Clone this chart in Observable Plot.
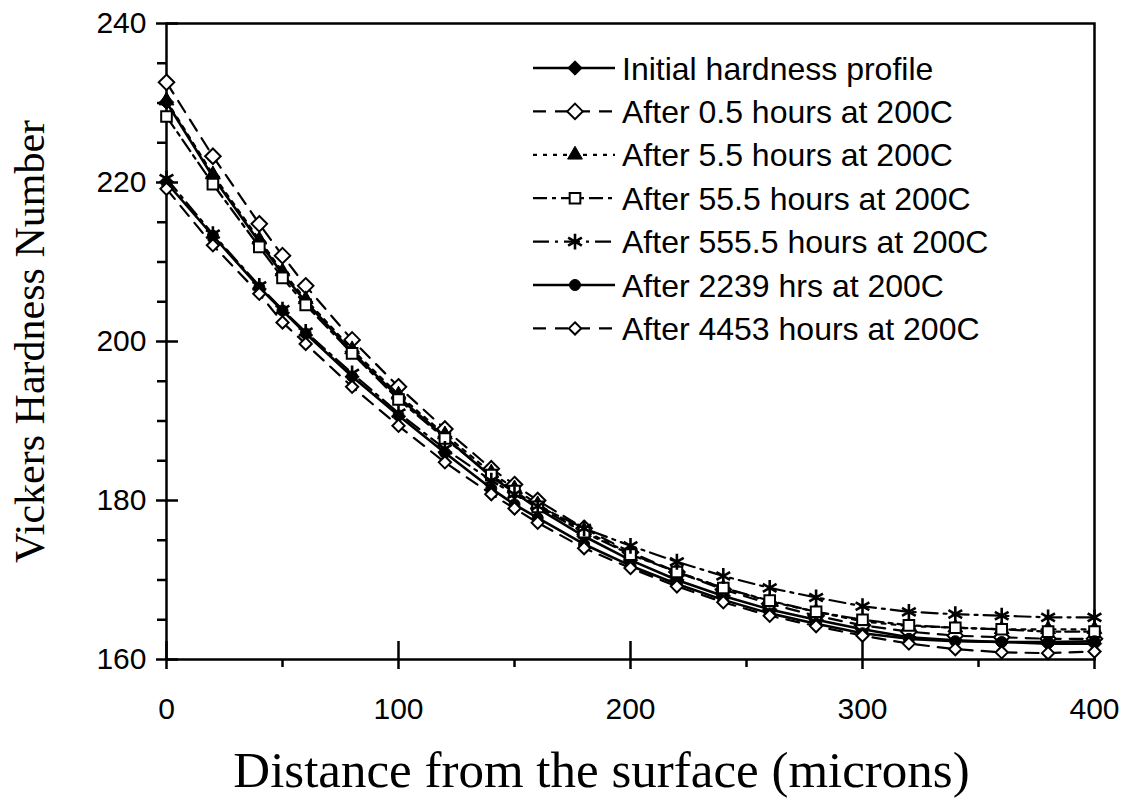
<!DOCTYPE html>
<html>
<head>
<meta charset="utf-8">
<script src="https://cdn.jsdelivr.net/npm/d3@7"></script>
<script src="https://cdn.jsdelivr.net/npm/@observablehq/plot@0.6"></script>
<style>
  html, body { margin: 0; padding: 0; background: #fff; }
  #chart { width: 1131px; height: 806px; }
</style>
</head>
<body>
<div id="chart"></div>
<script>
// Distances from the surface (microns)
const distances = [0, 20, 40, 50, 60, 80, 100, 120, 140, 150, 160, 180, 200, 220, 240, 260, 280, 300, 320, 340, 360, 380, 400];

const seriesNames = [
  "Initial hardness profile",
  "After 0.5 hours at 200C",
  "After 5.5 hours at 200C",
  "After 55.5 hours at 200C",
  "After 555.5 hours at 200C",
  "After 2239 hrs at 200C",
  "After 4453 hours at 200C"
];

const initialProfile = [230.1, 220.7, 212.5, 208.5, 205.0, 198.7, 193.0, 188.0, 183.0, 181.0, 179.0, 175.5, 172.5, 170.0, 168.0, 166.3, 165.0, 163.8, 162.8, 162.4, 162.2, 162.0, 162.0];
const after0_5h    = [232.6, 223.3, 214.8, 210.8, 207.0, 200.2, 194.3, 189.0, 184.0, 182.0, 180.0, 176.5, 173.5, 171.0, 168.8, 167.0, 165.5, 164.3, 163.5, 163.0, 162.8, 162.6, 162.6];
const after5_5h    = [230.3, 221.0, 212.8, 208.8, 205.3, 199.0, 193.3, 188.3, 183.5, 181.5, 179.5, 176.2, 173.3, 171.0, 169.0, 167.3, 166.0, 164.8, 164.2, 164.0, 163.8, 163.8, 163.8];
const after55_5h   = [228.3, 219.8, 211.9, 208.0, 204.6, 198.5, 192.7, 187.8, 183.2, 181.2, 179.2, 176.0, 173.2, 171.0, 169.0, 167.4, 166.0, 165.0, 164.3, 164.0, 163.8, 163.5, 163.5];
const after555_5h  = [220.5, 213.5, 207.0, 204.0, 201.2, 196.0, 191.0, 186.5, 182.5, 180.8, 179.3, 176.5, 174.3, 172.3, 170.5, 169.0, 167.8, 166.7, 166.0, 165.7, 165.5, 165.3, 165.3];
const after2239h   = [220.0, 213.3, 206.8, 203.9, 201.0, 195.6, 190.7, 186.0, 181.5, 179.5, 177.8, 174.5, 171.8, 169.5, 167.5, 165.8, 164.5, 163.3, 162.6, 162.3, 162.2, 162.2, 162.3];
const after4453h   = [219.2, 212.1, 206.0, 202.4, 199.7, 194.3, 189.4, 184.8, 180.8, 179.0, 177.2, 174.0, 171.5, 169.2, 167.2, 165.5, 164.2, 163.0, 162.0, 161.3, 160.9, 160.8, 161.0];

const seriesValues = [initialProfile, after0_5h, after5_5h, after55_5h, after555_5h, after2239h, after4453h];

const xTicksMajor = [0, 100, 200, 300, 400];
const xTicksMinor = [50, 150, 250, 350];
const yTicksMajor = [160, 180, 200, 220, 240];
const yTicksMinor = [165, 170, 175, 185, 190, 195, 205, 210, 215, 225, 230, 235];

const xLabel = "Distance from the surface (microns)";
const yLabel = "Vickers Hardness Number";

// Styles per series
const styles = [
  {symbol: "diamond2", r: 6.5, fill: "black", stroke: "black", sw: 1, dash: null, lw: 2.6},
  {symbol: "diamond2", r: 7, fill: "white", stroke: "black", sw: 2, dash: "13,9", lw: 2.2},
  {symbol: "triangle", r: 5.5, fill: "black", stroke: "black", sw: 1, dash: "4,6", lw: 2.2},
  {symbol: "square", r: 6, fill: "white", stroke: "black", sw: 2, dash: "14,5,4,5", lw: 2.2},
  {symbol: "asterisk", r: 7.5, fill: "none", stroke: "black", sw: 2.6, dash: "16,6,3,6", lw: 2.2},
  {symbol: "circle", r: 5.5, fill: "black", stroke: "black", sw: 1, dash: null, lw: 2.6},
  {symbol: "diamond2", r: 5.5, fill: "white", stroke: "black", sw: 2, dash: "13,9", lw: 2.2}
];

const rows = [];
seriesNames.forEach((name, s) => {
  distances.forEach((x, i) => rows.push({series: name, s, x, y: seriesValues[s][i]}));
});

const marks = [];
seriesNames.forEach((name, s) => {
  const st = styles[s];
  const d = rows.filter(r => r.s === s);
  marks.push(Plot.line(d, {x: "x", y: "y", stroke: "black", strokeWidth: st.lw, strokeDasharray: st.dash ?? undefined}));
});
seriesNames.forEach((name, s) => {
  const st = styles[s];
  const d = rows.filter(r => r.s === s);
  marks.push(Plot.dot(d, {x: "x", y: "y", symbol: st.symbol, r: st.r, fill: st.fill, stroke: st.stroke, strokeWidth: st.sw}));
});

const sans = "'Liberation Sans', Arial, Helvetica, sans-serif";
const serif = "'Liberation Serif', 'Times New Roman', serif";

const plot = Plot.plot({
  width: 1131,
  height: 806,
  marginLeft: 166,
  marginRight: 37,
  marginTop: 23,
  marginBottom: 147,
  style: {fontFamily: sans, fontSize: "30px", color: "black", background: "white"},
  x: {domain: [0, 400]},
  y: {domain: [160, 240]},
  marks: [
    Plot.frame({stroke: "black", strokeWidth: 2.5}),
    Plot.axisX({ticks: xTicksMajor, tickSize: 10, tickPadding: 28, tickFormat: d3.format("d"), label: null, fontSize: 30, strokeWidth: 2.5}),
    Plot.axisX({ticks: xTicksMajor, tickSize: -18, tickFormat: () => "", label: null, strokeWidth: 2.5}),
    Plot.axisX({ticks: xTicksMinor, tickSize: 8, tickFormat: () => "", label: null, strokeWidth: 2.5}),
    Plot.axisY({ticks: yTicksMajor, tickSize: 10, tickPadding: 10, tickFormat: d3.format("d"), label: null, fontSize: 30, strokeWidth: 2.5}),
    Plot.axisY({ticks: yTicksMajor, tickSize: -12, tickFormat: () => "", label: null, strokeWidth: 2.5}),
    Plot.axisY({ticks: yTicksMinor, tickSize: 9, tickFormat: () => "", label: null, strokeWidth: 2.5}),
    ...marks,
    Plot.text([xLabel], {text: d => d, frameAnchor: "bottom", textAnchor: "middle", lineAnchor: "middle", dy: 111, dx: -29, fontFamily: serif, fontSize: 51, fill: "black"}),
    Plot.text([yLabel], {text: d => d, frameAnchor: "left", textAnchor: "middle", lineAnchor: "middle", dx: -136, rotate: -90, fontFamily: serif, fontSize: 42, fill: "black"})
  ]
});

document.getElementById("chart").appendChild(plot);

// Legend (inside the plot area, top right)
const svg = d3.select(plot);
const lg = svg.append("g").attr("class", "legend").attr("text-anchor", "start");
const legX0 = 533, legX1 = 615, legMarkX = 575, legTextX = 622, legY0 = 68, legDY = 43.4;
const symTypes = {diamond2: d3.symbolDiamond2, triangle: d3.symbolTriangle, square: d3.symbolSquare, asterisk: d3.symbolAsterisk, circle: d3.symbolCircle};
seriesNames.forEach((name, s) => {
  const st = styles[s];
  const y = legY0 + s * legDY;
  lg.append("line")
    .attr("x1", legX0).attr("x2", legX1).attr("y1", y).attr("y2", y)
    .attr("stroke", "black").attr("stroke-width", st.lw)
    .attr("stroke-dasharray", st.dash);
  lg.append("path")
    .attr("d", d3.symbol(symTypes[st.symbol], Math.PI * st.r * st.r)())
    .attr("transform", `translate(${legMarkX},${y})`)
    .attr("fill", st.fill).attr("stroke", st.stroke).attr("stroke-width", st.sw);
  lg.append("text")
    .attr("x", legTextX).attr("y", y)
    .attr("dy", "0.36em")
    .attr("text-anchor", "start")
    .attr("font-family", sans).attr("font-size", 32).attr("fill", "black")
    .text(name);
});
</script>
</body>
</html>
